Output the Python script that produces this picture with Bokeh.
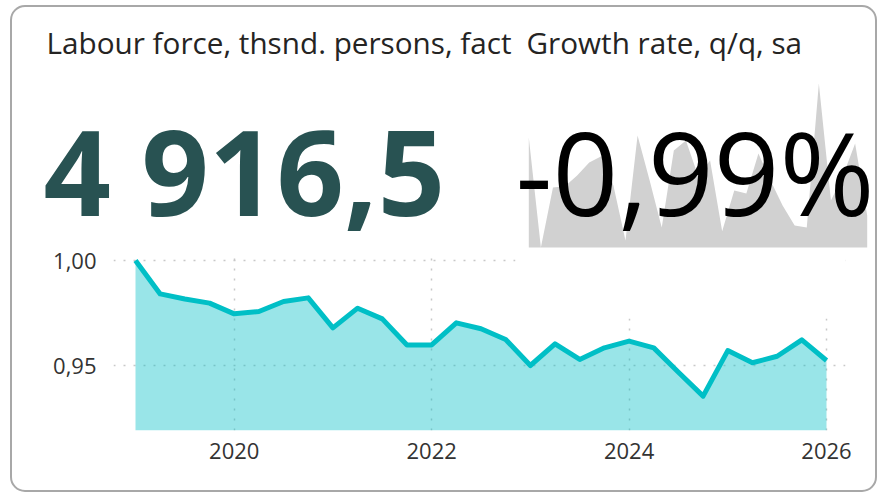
from bokeh.plotting import figure
from bokeh.layouts import column
from bokeh.models import Range1d, FixedTicker, CustomJSTickFormatter, BoxAnnotation
from bokeh.core.properties import value
from bokeh.embed import file_html
from bokeh.resources import INLINE

# ---------------- data ----------------
periods = ["2019Q1", "2019Q2", "2019Q3", "2019Q4",
           "2020Q1", "2020Q2", "2020Q3", "2020Q4",
           "2021Q1", "2021Q2", "2021Q3", "2021Q4",
           "2022Q1", "2022Q2", "2022Q3", "2022Q4",
           "2023Q1", "2023Q2", "2023Q3", "2023Q4",
           "2024Q1", "2024Q2", "2024Q3", "2024Q4",
           "2025Q1", "2025Q2", "2025Q3", "2025Q4",
           "2026Q1"]
labour_index = [1.000, 0.9841, 0.9817, 0.9797,
                0.9746, 0.9757, 0.9805, 0.9822,
                0.9679, 0.9773, 0.9722, 0.9598,
                0.9598, 0.9703, 0.9675, 0.9624,
                0.9500, 0.9603, 0.9529, 0.9584,
                0.9616, 0.9584, 0.9468, 0.9354,
                0.9571, 0.9513, 0.9544, 0.9622,
                0.9524]
growth_qq_sa = [0.88, -1.76, -0.32, -0.29,
                -0.03, 0.28, 0.43, -0.27,
                -1.59, 0.93, -0.15, -1.28,
                0.57, 0.81, -0.03, 0.33,
                -1.37, -0.39, -0.46, 0.50,
                -0.15, -0.75, -1.23, -1.28,
                2.18, -0.63, -0.03, 0.74,
                -0.99]
x_ticks = [2020, 2022, 2024, 2026]
y_ticks = [0.95, 1.00]
title_left = "Labour force, thsnd. persons, fact"
title_right = "Growth rate, q/q, sa"
kpi_left = "4 916,5"
kpi_right = "-0,99%"

TEAL = "#00BFC6"
FONT = "Open Sans"

# page geometry: card border at (10,5); content starts at (12,7)
X0, Y0, X1, YS, Y1 = 12, 7, 875, 250, 490
OVERLAP = 12          # line-chart canvas starts a little above the split
W = X1 - X0
BASE_SHIFT = 0.365    # em offset between requested y and drawn baseline


def base(y, size):
    return y - BASE_SHIFT * size


# ---------------- top card (page-pixel coordinates) ----------------
pA = figure(width=W, height=YS - Y0, x_range=Range1d(X0, X1), y_range=Range1d(YS, Y0),
            output_backend="svg", toolbar_location=None,
            x_axis_location=None, y_axis_location=None,
            min_border=0, min_border_left=0, min_border_right=0,
            min_border_top=0, min_border_bottom=0,
            background_fill_color=None, border_fill_color=None,
            outline_line_color=None)
pA.frame_align = False
pA.grid.visible = False

# sparkline placed through its own ranges
n = len(growth_qq_sa)
sx0, sx1 = 528.3, 866.7
sy_bot, sy_top = 247.0, 83.0
step = (sx1 - sx0) / (n - 1)
gmin, gmax = min(growth_qq_sa), max(growth_qq_sa)
upp = (gmax - gmin) / (sy_bot - sy_top)
pA.extra_x_ranges = {"sx": Range1d(-(sx0 - X0) / step, (n - 1) + (X1 - sx1) / step)}
pA.extra_y_ranges = {"sy": Range1d(gmin - (YS - sy_bot) * upp, gmax + (sy_top - Y0) * upp)}
pA.varea(x=list(range(n)), y1=gmin, y2=growth_qq_sa,
         x_range_name="sx", y_range_name="sy", fill_color="#D1D1D1")

TS, BS, RS = 29.7, 118, 115
pA.text(x=[46], y=[base(53, TS)], text=[title_left], text_font=value(FONT),
        text_font_size=f"{TS}px", text_color="#252423", text_baseline="alphabetic")
pA.text(x=[526], y=[base(53, TS)], text=[title_right], text_font=value(FONT),
        text_font_size=f"{TS}px", text_color="#252423", text_baseline="alphabetic")
pA.text(x=[43], y=[base(213, BS)], text=[kpi_left], text_font=value(FONT),
        text_font_size=f"{BS}px", text_font_style="bold", text_color="#285252",
        text_baseline="alphabetic")
pA.text(x=[515], y=[base(213, RS)], text=[kpi_right], text_font=value(FONT),
        text_font_size=f"{RS}px", text_color="#000000", text_baseline="alphabetic")

# ---------------- line chart ----------------
xs = [int(p[:4]) + (int(p[5]) - 1) / 4 for p in periods]
px_per_year = (826 - 135) / (xs[-1] - xs[0])
px_per_unit = (365 - 260) / (y_ticks[1] - y_ticks[0])
x_start = xs[0] - (135 - 113) / px_per_year
x_end = xs[-1] + (845 - 826) / px_per_year
y_start = y_ticks[1] - (430 - 260) / px_per_unit
y_end = y_ticks[1] + (260 - 252) / px_per_unit

pB = figure(width=W, height=Y1 - YS + OVERLAP,
            x_range=Range1d(x_start, x_end), y_range=Range1d(y_start, y_end),
            output_backend="svg", toolbar_location=None,
            min_border_left=113 - X0, min_border_right=X1 - 845,
            min_border_top=252 - YS + OVERLAP, min_border_bottom=Y1 - 430,
            background_fill_color=None, border_fill_color=None,
            outline_line_color=None,
            styles={"margin-top": f"-{OVERLAP}px"})
pB.frame_align = False

pB.varea(x=xs, y1=y_start, y2=labour_index, fill_color=TEAL, fill_alpha=0.4)
pB.line(x=xs, y=labour_index, line_color=TEAL, line_width=5, line_join="round")

# the growth-rate card's white background overlaps the upper right of the chart
pB.add_layout(BoxAnnotation(left=x_start + (515 - 113) / px_per_year, right=x_end,
                            bottom=y_ticks[1] - (318 - 260) / px_per_unit, top=y_end,
                            fill_color="white", fill_alpha=1.0, line_color=None,
                            level="underlay"))

pB.xaxis.ticker = FixedTicker(ticks=x_ticks)
pB.yaxis.ticker = FixedTicker(ticks=y_ticks)
pB.xaxis.formatter = CustomJSTickFormatter(code="return tick.toFixed(0);")
pB.yaxis.formatter = CustomJSTickFormatter(code="return tick.toFixed(2).replace('.', ',');")
for ax in pB.axis:
    ax.axis_line_color = None
    ax.major_tick_line_color = None
    ax.minor_tick_line_color = None
    ax.major_label_text_font = FONT
    ax.major_label_text_font_size = "22px"
    ax.major_label_text_color = "#333333"
pB.xaxis.major_label_standoff = 6
pB.yaxis.major_label_standoff = 11
pB.grid.grid_line_color = "#C8C8C8"
pB.grid.grid_line_dash = "2 8"
pB.grid.grid_line_width = 1.5
pB.grid.level = "underlay"

layout = column(pA, pB, styles={"border": "2px solid #A8A8A8", "border-radius": "15px",
                                "margin-left": "10px", "margin-top": "5px"})

open("out.html", "w").write(file_html(layout, INLINE))
